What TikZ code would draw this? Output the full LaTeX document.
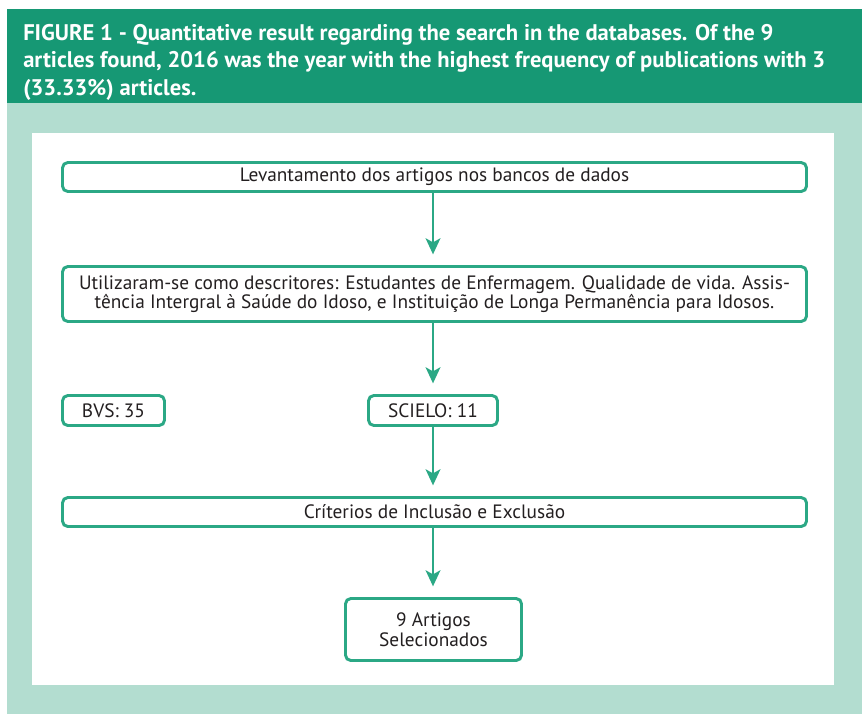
\documentclass[tikz,border=0pt]{standalone}
\usepackage{fontspec}
\setmainfont{PT Sans}
\newfontfamily\headfont{PT Sans}
\usepackage{xcolor}
\usetikzlibrary{arrows.meta}
\definecolor{headgreen}{RGB}{22,152,116}
\definecolor{panelgreen}{RGB}{179,221,208}
\definecolor{boxgreen}{RGB}{43,168,133}
\definecolor{inkgray}{RGB}{35,31,32}
\newcommand{\tightlines}{\lineskiplimit=-10pt\relax}

\begin{document}
\begin{tikzpicture}[x=0.75pt,y=-0.75pt]

\tikzstyle{flowbox}=[draw=boxgreen,line width=2.2pt,rounded corners=4pt,fill=white,
  inner sep=0pt,align=center,text=inkgray,
  font=\fontsize{14.5}{14.75}\selectfont\tightlines]
\tikzstyle{flowarrow}=[boxgreen,line width=2pt,
  -{Stealth[length=12pt,width=11pt,inset=3pt]},shorten >=8pt]

\useasboundingbox (0,0) rectangle (862,714);

%%% BACKGROUND PANELS %%%
\fill[panelgreen] (7,103) rectangle (862,714);
\fill[headgreen] (7,9) rectangle (862,103);
\fill[white] (32,133) rectangle (834,685);

%%% CAPTION %%%
\node[anchor=north west,inner sep=0pt,align=left,text=white,
  font=\headfont\bfseries\fontsize{16.95}{20.5}\selectfont\tightlines] (caption) at (23,24)
  {FIGURE 1 - Quantitative result regarding the search in the databases. Of the 9\\
   articles found, 2016 was the year with the highest frequency of publications with 3\\
   (33.33\%) articles.};

%%% BOXES %%%
\node[flowbox,minimum width=558pt,minimum height=21.75pt] (levant) at (434.5,177)
  {Levantamento dos artigos nos bancos de dados};
\node[flowbox,minimum width=558pt,minimum height=41.25pt] (descr) at (434.5,294)
  {Utilizaram-se como descritores: Estudantes de Enfermagem. Qualidade de vida. Assis-\\
   tência Intergral à Saúde do Idoso, e Instituição de Longa Permanência para Idosos.};
\node[flowbox,minimum width=76.5pt,minimum height=22.5pt] (bvs) at (113.5,410.5) {BVS: 35};
\node[flowbox,minimum width=96.75pt,minimum height=22.5pt] (scielo) at (433,410.5) {SCIELO: 11};
\node[flowbox,minimum width=558pt,minimum height=21.75pt] (crit) at (434.5,512)
  {Críterios de Inclusão e Exclusão};
\node[flowbox,minimum width=132pt,minimum height=46.5pt] (sel) at (433.5,629.5)
  {9 Artigos\\ Selecionados};

%%% ARROWS %%%
\draw[flowarrow] (levant.south -| scielo) -- (descr.north -| scielo);
\draw[flowarrow] (descr.south -| scielo) -- (scielo.north);
\draw[flowarrow] (scielo.south) -- (crit.north -| scielo);
\draw[flowarrow] (crit.south -| scielo) -- (sel.north -| scielo);

\end{tikzpicture}
\end{document}
